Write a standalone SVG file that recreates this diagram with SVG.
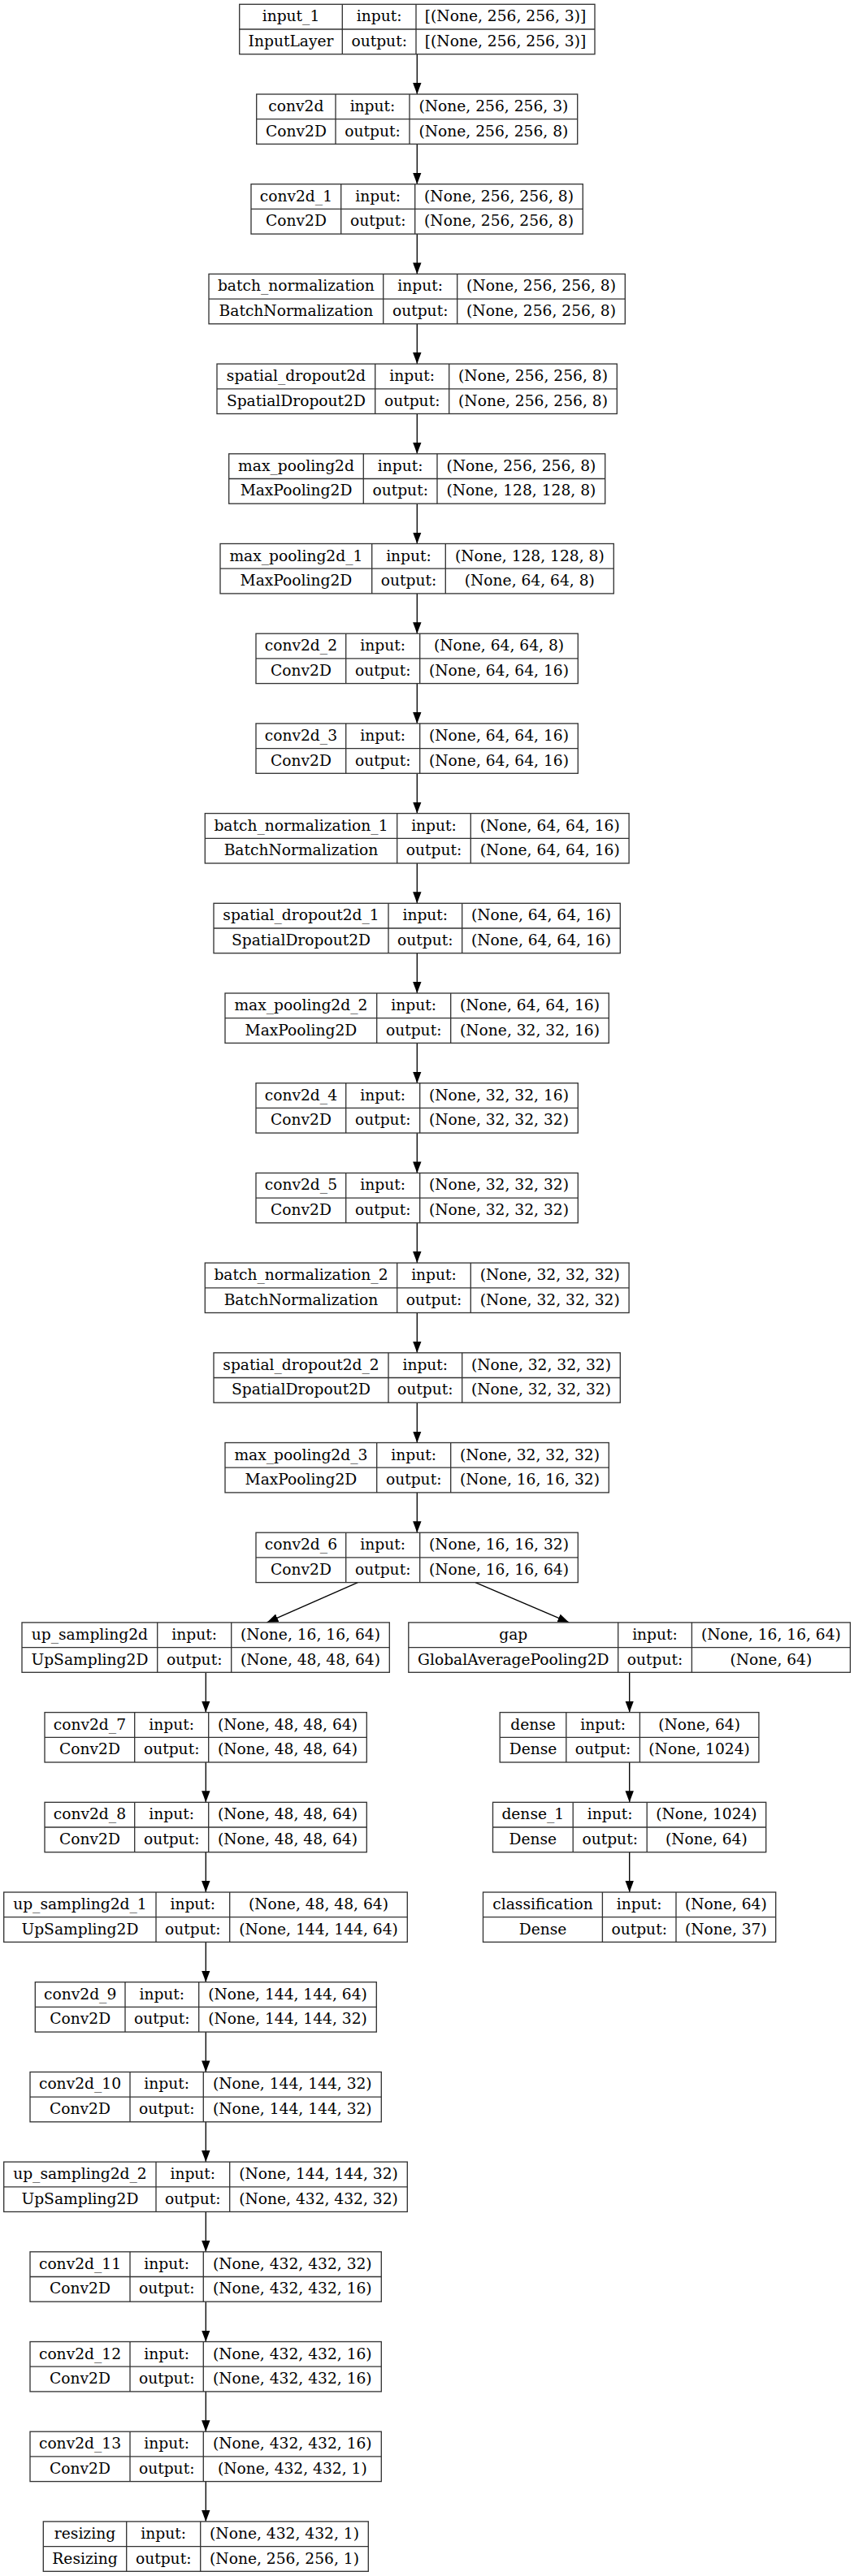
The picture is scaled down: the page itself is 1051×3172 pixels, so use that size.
<svg xmlns="http://www.w3.org/2000/svg" width="1051" height="3172" viewBox="0 0 1051 3172">
<style>
.b{fill:#fff;stroke:#333;stroke-width:1.33}
.d{stroke:#333;stroke-width:1.33}
text{font-family:"DejaVu Serif","Liberation Serif",serif;font-size:18.67px;fill:#000;text-anchor:middle}
.e{stroke:#000;stroke-width:1.33;fill:none;marker-end:url(#ah)}
</style>
<defs>
<marker id="ah" markerUnits="userSpaceOnUse" markerWidth="15" markerHeight="11" refX="14" refY="5.2" orient="auto">
<path d="M0,0 L14,5.2 L0,10.4 z" fill="#000"/>
</marker>
</defs>
<rect width="1051" height="3172" fill="#fff"/>
<g id="connectors">
<line class="e" x1="513.3" y1="66.7" x2="513.3" y2="116"/>
<line class="e" x1="513.3" y1="177.4" x2="513.3" y2="226.7"/>
<line class="e" x1="513.3" y1="288.1" x2="513.3" y2="337.4"/>
<line class="e" x1="513.3" y1="398.8" x2="513.3" y2="448.1"/>
<line class="e" x1="513.3" y1="509.5" x2="513.3" y2="558.8"/>
<line class="e" x1="513.3" y1="620.2" x2="513.3" y2="669.5"/>
<line class="e" x1="513.3" y1="730.9" x2="513.3" y2="780.2"/>
<line class="e" x1="513.3" y1="841.6" x2="513.3" y2="890.9"/>
<line class="e" x1="513.3" y1="952.3" x2="513.3" y2="1001.6"/>
<line class="e" x1="513.3" y1="1063" x2="513.3" y2="1112.3"/>
<line class="e" x1="513.3" y1="1173.7" x2="513.3" y2="1223"/>
<line class="e" x1="513.3" y1="1284.4" x2="513.3" y2="1333.7"/>
<line class="e" x1="513.3" y1="1395.1" x2="513.3" y2="1444.4"/>
<line class="e" x1="513.3" y1="1505.8" x2="513.3" y2="1555.1"/>
<line class="e" x1="513.3" y1="1616.5" x2="513.3" y2="1665.8"/>
<line class="e" x1="513.3" y1="1727.2" x2="513.3" y2="1776.5"/>
<line class="e" x1="513.3" y1="1837.9" x2="513.3" y2="1887.2"/>
<line class="e" x1="440.3" y1="1948.6" x2="328.4" y2="1997.9"/>
<line class="e" x1="585.1" y1="1948.6" x2="700.4" y2="1997.9"/>
<line class="e" x1="253.3" y1="2059.3" x2="253.3" y2="2108.6"/>
<line class="e" x1="253.3" y1="2170" x2="253.3" y2="2219.3"/>
<line class="e" x1="253.3" y1="2280.7" x2="253.3" y2="2330"/>
<line class="e" x1="253.3" y1="2391.4" x2="253.3" y2="2440.7"/>
<line class="e" x1="253.3" y1="2502.1" x2="253.3" y2="2551.4"/>
<line class="e" x1="253.3" y1="2612.8" x2="253.3" y2="2662.1"/>
<line class="e" x1="253.3" y1="2723.5" x2="253.3" y2="2772.8"/>
<line class="e" x1="253.3" y1="2834.2" x2="253.3" y2="2883.5"/>
<line class="e" x1="253.3" y1="2944.9" x2="253.3" y2="2994.2"/>
<line class="e" x1="253.3" y1="3055.6" x2="253.3" y2="3104.9"/>
<line class="e" x1="774.7" y1="2059.3" x2="774.7" y2="2108.6"/>
<line class="e" x1="774.7" y1="2170" x2="774.7" y2="2219.3"/>
<line class="e" x1="774.7" y1="2280.7" x2="774.7" y2="2330"/>
</g>

<g id="input_1" transform="translate(0,5.3)">
<rect class="b" x="294.7" y="0" width="437.3" height="61.4"/>
<line class="d" x1="294.7" y1="30.7" x2="732" y2="30.7"/><line class="d" x1="421.3" y1="0" x2="421.3" y2="61.4"/><line class="d" x1="512" y1="0" x2="512" y2="61.4"/>
<text x="358" y="21">input_1</text><text x="358" y="51.7">InputLayer</text>
<text x="466.7" y="21">input:</text><text x="466.7" y="51.7">output:</text>
<text x="622" y="21">[(None, 256, 256, 3)]</text><text x="622" y="51.7">[(None, 256, 256, 3)]</text>
</g>

<g id="conv2d" transform="translate(0,116)">
<rect class="b" x="315.7" y="0" width="395" height="61.4"/>
<line class="d" x1="315.7" y1="30.7" x2="710.7" y2="30.7"/><line class="d" x1="413" y1="0" x2="413" y2="61.4"/><line class="d" x1="504" y1="0" x2="504" y2="61.4"/>
<text x="364.4" y="21">conv2d</text><text x="364.4" y="51.7">Conv2D</text>
<text x="458.5" y="21">input:</text><text x="458.5" y="51.7">output:</text>
<text x="607.4" y="21">(None, 256, 256, 3)</text><text x="607.4" y="51.7">(None, 256, 256, 8)</text>
</g>

<g id="conv2d_1" transform="translate(0,226.7)">
<rect class="b" x="309" y="0" width="408.3" height="61.4"/>
<line class="d" x1="309" y1="30.7" x2="717.3" y2="30.7"/><line class="d" x1="419.7" y1="0" x2="419.7" y2="61.4"/><line class="d" x1="510.7" y1="0" x2="510.7" y2="61.4"/>
<text x="364.4" y="21">conv2d_1</text><text x="364.4" y="51.7">Conv2D</text>
<text x="465.2" y="21">input:</text><text x="465.2" y="51.7">output:</text>
<text x="614" y="21">(None, 256, 256, 8)</text><text x="614" y="51.7">(None, 256, 256, 8)</text>
</g>

<g id="batch_normalization" transform="translate(0,337.4)">
<rect class="b" x="257" y="0" width="512.3" height="61.4"/>
<line class="d" x1="257" y1="30.7" x2="769.3" y2="30.7"/><line class="d" x1="471.7" y1="0" x2="471.7" y2="61.4"/><line class="d" x1="562.7" y1="0" x2="562.7" y2="61.4"/>
<text x="364.4" y="21">batch_normalization</text><text x="364.4" y="51.7">BatchNormalization</text>
<text x="517.2" y="21">input:</text><text x="517.2" y="51.7">output:</text>
<text x="666" y="21">(None, 256, 256, 8)</text><text x="666" y="51.7">(None, 256, 256, 8)</text>
</g>

<g id="spatial_dropout2d" transform="translate(0,448.1)">
<rect class="b" x="267" y="0" width="492.3" height="61.4"/>
<line class="d" x1="267" y1="30.7" x2="759.3" y2="30.7"/><line class="d" x1="461.7" y1="0" x2="461.7" y2="61.4"/><line class="d" x1="552.7" y1="0" x2="552.7" y2="61.4"/>
<text x="364.4" y="21">spatial_dropout2d</text><text x="364.4" y="51.7">SpatialDropout2D</text>
<text x="507.2" y="21">input:</text><text x="507.2" y="51.7">output:</text>
<text x="656" y="21">(None, 256, 256, 8)</text><text x="656" y="51.7">(None, 256, 256, 8)</text>
</g>

<g id="max_pooling2d" transform="translate(0,558.8)">
<rect class="b" x="281.7" y="0" width="463" height="61.4"/>
<line class="d" x1="281.7" y1="30.7" x2="744.7" y2="30.7"/><line class="d" x1="447.3" y1="0" x2="447.3" y2="61.4"/><line class="d" x1="538" y1="0" x2="538" y2="61.4"/>
<text x="364.5" y="21">max_pooling2d</text><text x="364.5" y="51.7">MaxPooling2D</text>
<text x="492.7" y="21">input:</text><text x="492.7" y="51.7">output:</text>
<text x="641.4" y="21">(None, 256, 256, 8)</text><text x="641.4" y="51.7">(None, 128, 128, 8)</text>
</g>

<g id="max_pooling2d_1" transform="translate(0,669.5)">
<rect class="b" x="271" y="0" width="484.3" height="61.4"/>
<line class="d" x1="271" y1="30.7" x2="755.3" y2="30.7"/><line class="d" x1="457.7" y1="0" x2="457.7" y2="61.4"/><line class="d" x1="548.3" y1="0" x2="548.3" y2="61.4"/>
<text x="364.4" y="21">max_pooling2d_1</text><text x="364.4" y="51.7">MaxPooling2D</text>
<text x="503" y="21">input:</text><text x="503" y="51.7">output:</text>
<text x="651.8" y="21">(None, 128, 128, 8)</text><text x="651.8" y="51.7">(None, 64, 64, 8)</text>
</g>

<g id="conv2d_2" transform="translate(0,780.2)">
<rect class="b" x="315" y="0" width="396.3" height="61.4"/>
<line class="d" x1="315" y1="30.7" x2="711.3" y2="30.7"/><line class="d" x1="425.7" y1="0" x2="425.7" y2="61.4"/><line class="d" x1="516.7" y1="0" x2="516.7" y2="61.4"/>
<text x="370.4" y="21">conv2d_2</text><text x="370.4" y="51.7">Conv2D</text>
<text x="471.2" y="21">input:</text><text x="471.2" y="51.7">output:</text>
<text x="614" y="21">(None, 64, 64, 8)</text><text x="614" y="51.7">(None, 64, 64, 16)</text>
</g>

<g id="conv2d_3" transform="translate(0,890.9)">
<rect class="b" x="315" y="0" width="396.3" height="61.4"/>
<line class="d" x1="315" y1="30.7" x2="711.3" y2="30.7"/><line class="d" x1="425.7" y1="0" x2="425.7" y2="61.4"/><line class="d" x1="516.7" y1="0" x2="516.7" y2="61.4"/>
<text x="370.4" y="21">conv2d_3</text><text x="370.4" y="51.7">Conv2D</text>
<text x="471.2" y="21">input:</text><text x="471.2" y="51.7">output:</text>
<text x="614" y="21">(None, 64, 64, 16)</text><text x="614" y="51.7">(None, 64, 64, 16)</text>
</g>

<g id="batch_normalization_1" transform="translate(0,1001.6)">
<rect class="b" x="252.3" y="0" width="521.8" height="61.4"/>
<line class="d" x1="252.3" y1="30.7" x2="774.1" y2="30.7"/><line class="d" x1="488.7" y1="0" x2="488.7" y2="61.4"/><line class="d" x1="579.3" y1="0" x2="579.3" y2="61.4"/>
<text x="370.5" y="21">batch_normalization_1</text><text x="370.5" y="51.7">BatchNormalization</text>
<text x="534" y="21">input:</text><text x="534" y="51.7">output:</text>
<text x="676.7" y="21">(None, 64, 64, 16)</text><text x="676.7" y="51.7">(None, 64, 64, 16)</text>
</g>

<g id="spatial_dropout2d_1" transform="translate(0,1112.3)">
<rect class="b" x="263" y="0" width="500.3" height="61.4"/>
<line class="d" x1="263" y1="30.7" x2="763.3" y2="30.7"/><line class="d" x1="478" y1="0" x2="478" y2="61.4"/><line class="d" x1="568.7" y1="0" x2="568.7" y2="61.4"/>
<text x="370.5" y="21">spatial_dropout2d_1</text><text x="370.5" y="51.7">SpatialDropout2D</text>
<text x="523.3" y="21">input:</text><text x="523.3" y="51.7">output:</text>
<text x="666" y="21">(None, 64, 64, 16)</text><text x="666" y="51.7">(None, 64, 64, 16)</text>
</g>

<g id="max_pooling2d_2" transform="translate(0,1223)">
<rect class="b" x="277" y="0" width="472.3" height="61.4"/>
<line class="d" x1="277" y1="30.7" x2="749.3" y2="30.7"/><line class="d" x1="463.7" y1="0" x2="463.7" y2="61.4"/><line class="d" x1="554.7" y1="0" x2="554.7" y2="61.4"/>
<text x="370.4" y="21">max_pooling2d_2</text><text x="370.4" y="51.7">MaxPooling2D</text>
<text x="509.2" y="21">input:</text><text x="509.2" y="51.7">output:</text>
<text x="652" y="21">(None, 64, 64, 16)</text><text x="652" y="51.7">(None, 32, 32, 16)</text>
</g>

<g id="conv2d_4" transform="translate(0,1333.7)">
<rect class="b" x="315" y="0" width="396.3" height="61.4"/>
<line class="d" x1="315" y1="30.7" x2="711.3" y2="30.7"/><line class="d" x1="425.7" y1="0" x2="425.7" y2="61.4"/><line class="d" x1="516.7" y1="0" x2="516.7" y2="61.4"/>
<text x="370.4" y="21">conv2d_4</text><text x="370.4" y="51.7">Conv2D</text>
<text x="471.2" y="21">input:</text><text x="471.2" y="51.7">output:</text>
<text x="614" y="21">(None, 32, 32, 16)</text><text x="614" y="51.7">(None, 32, 32, 32)</text>
</g>

<g id="conv2d_5" transform="translate(0,1444.4)">
<rect class="b" x="315" y="0" width="396.3" height="61.4"/>
<line class="d" x1="315" y1="30.7" x2="711.3" y2="30.7"/><line class="d" x1="425.7" y1="0" x2="425.7" y2="61.4"/><line class="d" x1="516.7" y1="0" x2="516.7" y2="61.4"/>
<text x="370.4" y="21">conv2d_5</text><text x="370.4" y="51.7">Conv2D</text>
<text x="471.2" y="21">input:</text><text x="471.2" y="51.7">output:</text>
<text x="614" y="21">(None, 32, 32, 32)</text><text x="614" y="51.7">(None, 32, 32, 32)</text>
</g>

<g id="batch_normalization_2" transform="translate(0,1555.1)">
<rect class="b" x="252.3" y="0" width="521.8" height="61.4"/>
<line class="d" x1="252.3" y1="30.7" x2="774.1" y2="30.7"/><line class="d" x1="488.7" y1="0" x2="488.7" y2="61.4"/><line class="d" x1="579.3" y1="0" x2="579.3" y2="61.4"/>
<text x="370.5" y="21">batch_normalization_2</text><text x="370.5" y="51.7">BatchNormalization</text>
<text x="534" y="21">input:</text><text x="534" y="51.7">output:</text>
<text x="676.7" y="21">(None, 32, 32, 32)</text><text x="676.7" y="51.7">(None, 32, 32, 32)</text>
</g>

<g id="spatial_dropout2d_2" transform="translate(0,1665.8)">
<rect class="b" x="263" y="0" width="500.3" height="61.4"/>
<line class="d" x1="263" y1="30.7" x2="763.3" y2="30.7"/><line class="d" x1="478" y1="0" x2="478" y2="61.4"/><line class="d" x1="568.7" y1="0" x2="568.7" y2="61.4"/>
<text x="370.5" y="21">spatial_dropout2d_2</text><text x="370.5" y="51.7">SpatialDropout2D</text>
<text x="523.3" y="21">input:</text><text x="523.3" y="51.7">output:</text>
<text x="666" y="21">(None, 32, 32, 32)</text><text x="666" y="51.7">(None, 32, 32, 32)</text>
</g>

<g id="max_pooling2d_3" transform="translate(0,1776.5)">
<rect class="b" x="277" y="0" width="472.3" height="61.4"/>
<line class="d" x1="277" y1="30.7" x2="749.3" y2="30.7"/><line class="d" x1="463.7" y1="0" x2="463.7" y2="61.4"/><line class="d" x1="554.7" y1="0" x2="554.7" y2="61.4"/>
<text x="370.4" y="21">max_pooling2d_3</text><text x="370.4" y="51.7">MaxPooling2D</text>
<text x="509.2" y="21">input:</text><text x="509.2" y="51.7">output:</text>
<text x="652" y="21">(None, 32, 32, 32)</text><text x="652" y="51.7">(None, 16, 16, 32)</text>
</g>

<g id="conv2d_6" transform="translate(0,1887.2)">
<rect class="b" x="315" y="0" width="396.3" height="61.4"/>
<line class="d" x1="315" y1="30.7" x2="711.3" y2="30.7"/><line class="d" x1="425.7" y1="0" x2="425.7" y2="61.4"/><line class="d" x1="516.7" y1="0" x2="516.7" y2="61.4"/>
<text x="370.4" y="21">conv2d_6</text><text x="370.4" y="51.7">Conv2D</text>
<text x="471.2" y="21">input:</text><text x="471.2" y="51.7">output:</text>
<text x="614" y="21">(None, 16, 16, 32)</text><text x="614" y="51.7">(None, 16, 16, 64)</text>
</g>

<g id="up_sampling2d" transform="translate(0,1997.9)">
<rect class="b" x="27" y="0" width="452.3" height="61.4"/>
<line class="d" x1="27" y1="30.7" x2="479.3" y2="30.7"/><line class="d" x1="193.7" y1="0" x2="193.7" y2="61.4"/><line class="d" x1="284.7" y1="0" x2="284.7" y2="61.4"/>
<text x="110.4" y="21">up_sampling2d</text><text x="110.4" y="51.7">UpSampling2D</text>
<text x="239.2" y="21">input:</text><text x="239.2" y="51.7">output:</text>
<text x="382" y="21">(None, 16, 16, 64)</text><text x="382" y="51.7">(None, 48, 48, 64)</text>
</g>

<g id="conv2d_7" transform="translate(0,2108.6)">
<rect class="b" x="55" y="0" width="396.3" height="61.4"/>
<line class="d" x1="55" y1="30.7" x2="451.3" y2="30.7"/><line class="d" x1="165.7" y1="0" x2="165.7" y2="61.4"/><line class="d" x1="256.7" y1="0" x2="256.7" y2="61.4"/>
<text x="110.4" y="21">conv2d_7</text><text x="110.4" y="51.7">Conv2D</text>
<text x="211.2" y="21">input:</text><text x="211.2" y="51.7">output:</text>
<text x="354" y="21">(None, 48, 48, 64)</text><text x="354" y="51.7">(None, 48, 48, 64)</text>
</g>

<g id="conv2d_8" transform="translate(0,2219.3)">
<rect class="b" x="55" y="0" width="396.3" height="61.4"/>
<line class="d" x1="55" y1="30.7" x2="451.3" y2="30.7"/><line class="d" x1="165.7" y1="0" x2="165.7" y2="61.4"/><line class="d" x1="256.7" y1="0" x2="256.7" y2="61.4"/>
<text x="110.4" y="21">conv2d_8</text><text x="110.4" y="51.7">Conv2D</text>
<text x="211.2" y="21">input:</text><text x="211.2" y="51.7">output:</text>
<text x="354" y="21">(None, 48, 48, 64)</text><text x="354" y="51.7">(None, 48, 48, 64)</text>
</g>

<g id="up_sampling2d_1" transform="translate(0,2330)">
<rect class="b" x="4.7" y="0" width="496.6" height="61.4"/>
<line class="d" x1="4.7" y1="30.7" x2="501.3" y2="30.7"/><line class="d" x1="192" y1="0" x2="192" y2="61.4"/><line class="d" x1="282.7" y1="0" x2="282.7" y2="61.4"/>
<text x="98.4" y="21">up_sampling2d_1</text><text x="98.4" y="51.7">UpSampling2D</text>
<text x="237.3" y="21">input:</text><text x="237.3" y="51.7">output:</text>
<text x="392" y="21">(None, 48, 48, 64)</text><text x="392" y="51.7">(None, 144, 144, 64)</text>
</g>

<g id="conv2d_9" transform="translate(0,2440.7)">
<rect class="b" x="43.3" y="0" width="420" height="61.4"/>
<line class="d" x1="43.3" y1="30.7" x2="463.3" y2="30.7"/><line class="d" x1="154" y1="0" x2="154" y2="61.4"/><line class="d" x1="244.7" y1="0" x2="244.7" y2="61.4"/>
<text x="98.7" y="21">conv2d_9</text><text x="98.7" y="51.7">Conv2D</text>
<text x="199.3" y="21">input:</text><text x="199.3" y="51.7">output:</text>
<text x="354" y="21">(None, 144, 144, 64)</text><text x="354" y="51.7">(None, 144, 144, 32)</text>
</g>

<g id="conv2d_10" transform="translate(0,2551.4)">
<rect class="b" x="37" y="0" width="432.3" height="61.4"/>
<line class="d" x1="37" y1="30.7" x2="469.3" y2="30.7"/><line class="d" x1="160" y1="0" x2="160" y2="61.4"/><line class="d" x1="250.3" y1="0" x2="250.3" y2="61.4"/>
<text x="98.5" y="21">conv2d_10</text><text x="98.5" y="51.7">Conv2D</text>
<text x="205.2" y="21">input:</text><text x="205.2" y="51.7">output:</text>
<text x="359.8" y="21">(None, 144, 144, 32)</text><text x="359.8" y="51.7">(None, 144, 144, 32)</text>
</g>

<g id="up_sampling2d_2" transform="translate(0,2662.1)">
<rect class="b" x="4.7" y="0" width="496.6" height="61.4"/>
<line class="d" x1="4.7" y1="30.7" x2="501.3" y2="30.7"/><line class="d" x1="192" y1="0" x2="192" y2="61.4"/><line class="d" x1="282.7" y1="0" x2="282.7" y2="61.4"/>
<text x="98.4" y="21">up_sampling2d_2</text><text x="98.4" y="51.7">UpSampling2D</text>
<text x="237.3" y="21">input:</text><text x="237.3" y="51.7">output:</text>
<text x="392" y="21">(None, 144, 144, 32)</text><text x="392" y="51.7">(None, 432, 432, 32)</text>
</g>

<g id="conv2d_11" transform="translate(0,2772.8)">
<rect class="b" x="37" y="0" width="432.3" height="61.4"/>
<line class="d" x1="37" y1="30.7" x2="469.3" y2="30.7"/><line class="d" x1="160" y1="0" x2="160" y2="61.4"/><line class="d" x1="250.3" y1="0" x2="250.3" y2="61.4"/>
<text x="98.5" y="21">conv2d_11</text><text x="98.5" y="51.7">Conv2D</text>
<text x="205.2" y="21">input:</text><text x="205.2" y="51.7">output:</text>
<text x="359.8" y="21">(None, 432, 432, 32)</text><text x="359.8" y="51.7">(None, 432, 432, 16)</text>
</g>

<g id="conv2d_12" transform="translate(0,2883.5)">
<rect class="b" x="37" y="0" width="432.3" height="61.4"/>
<line class="d" x1="37" y1="30.7" x2="469.3" y2="30.7"/><line class="d" x1="160" y1="0" x2="160" y2="61.4"/><line class="d" x1="250.3" y1="0" x2="250.3" y2="61.4"/>
<text x="98.5" y="21">conv2d_12</text><text x="98.5" y="51.7">Conv2D</text>
<text x="205.2" y="21">input:</text><text x="205.2" y="51.7">output:</text>
<text x="359.8" y="21">(None, 432, 432, 16)</text><text x="359.8" y="51.7">(None, 432, 432, 16)</text>
</g>

<g id="conv2d_13" transform="translate(0,2994.2)">
<rect class="b" x="37" y="0" width="432.3" height="61.4"/>
<line class="d" x1="37" y1="30.7" x2="469.3" y2="30.7"/><line class="d" x1="160" y1="0" x2="160" y2="61.4"/><line class="d" x1="250.3" y1="0" x2="250.3" y2="61.4"/>
<text x="98.5" y="21">conv2d_13</text><text x="98.5" y="51.7">Conv2D</text>
<text x="205.2" y="21">input:</text><text x="205.2" y="51.7">output:</text>
<text x="359.8" y="21">(None, 432, 432, 16)</text><text x="359.8" y="51.7">(None, 432, 432, 1)</text>
</g>

<g id="resizing" transform="translate(0,3104.9)">
<rect class="b" x="53.3" y="0" width="400" height="61.4"/>
<line class="d" x1="53.3" y1="30.7" x2="453.3" y2="30.7"/><line class="d" x1="155.7" y1="0" x2="155.7" y2="61.4"/><line class="d" x1="246.7" y1="0" x2="246.7" y2="61.4"/>
<text x="104.5" y="21">resizing</text><text x="104.5" y="51.7">Resizing</text>
<text x="201.2" y="21">input:</text><text x="201.2" y="51.7">output:</text>
<text x="350" y="21">(None, 432, 432, 1)</text><text x="350" y="51.7">(None, 256, 256, 1)</text>
</g>

<g id="gap" transform="translate(0,1997.9)">
<rect class="b" x="502.8" y="0" width="543.6" height="61.4"/>
<line class="d" x1="502.8" y1="30.7" x2="1046.4" y2="30.7"/><line class="d" x1="760.7" y1="0" x2="760.7" y2="61.4"/><line class="d" x1="851.4" y1="0" x2="851.4" y2="61.4"/>
<text x="631.8" y="21">gap</text><text x="631.8" y="51.7">GlobalAveragePooling2D</text>
<text x="806" y="21">input:</text><text x="806" y="51.7">output:</text>
<text x="948.9" y="21">(None, 16, 16, 64)</text><text x="948.9" y="51.7">(None, 64)</text>
</g>

<g id="dense" transform="translate(0,2108.6)">
<rect class="b" x="615.2" y="0" width="318.7" height="61.4"/>
<line class="d" x1="615.2" y1="30.7" x2="933.9" y2="30.7"/><line class="d" x1="696.8" y1="0" x2="696.8" y2="61.4"/><line class="d" x1="787.4" y1="0" x2="787.4" y2="61.4"/>
<text x="656" y="21">dense</text><text x="656" y="51.7">Dense</text>
<text x="742.1" y="21">input:</text><text x="742.1" y="51.7">output:</text>
<text x="860.6" y="21">(None, 64)</text><text x="860.6" y="51.7">(None, 1024)</text>
</g>

<g id="dense_1" transform="translate(0,2219.3)">
<rect class="b" x="606.5" y="0" width="336.2" height="61.4"/>
<line class="d" x1="606.5" y1="30.7" x2="942.7" y2="30.7"/><line class="d" x1="705.2" y1="0" x2="705.2" y2="61.4"/><line class="d" x1="796.2" y1="0" x2="796.2" y2="61.4"/>
<text x="655.8" y="21">dense_1</text><text x="655.8" y="51.7">Dense</text>
<text x="750.7" y="21">input:</text><text x="750.7" y="51.7">output:</text>
<text x="869.4" y="21">(None, 1024)</text><text x="869.4" y="51.7">(None, 64)</text>
</g>

<g id="classification" transform="translate(0,2330)">
<rect class="b" x="594.5" y="0" width="360.2" height="61.4"/>
<line class="d" x1="594.5" y1="30.7" x2="954.7" y2="30.7"/><line class="d" x1="741.4" y1="0" x2="741.4" y2="61.4"/><line class="d" x1="832" y1="0" x2="832" y2="61.4"/>
<text x="668" y="21">classification</text><text x="668" y="51.7">Dense</text>
<text x="786.7" y="21">input:</text><text x="786.7" y="51.7">output:</text>
<text x="893.4" y="21">(None, 64)</text><text x="893.4" y="51.7">(None, 37)</text>
</g>
</svg>
